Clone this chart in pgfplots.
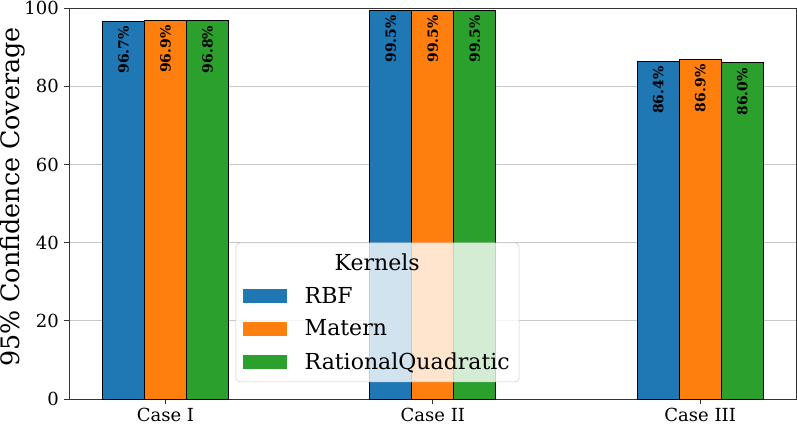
\documentclass[border=0pt]{standalone}
\usepackage{pgfplots}
\pgfplotsset{compat=1.18}
\usepackage{fontspec}
\setmainfont{DejaVu Serif}
\definecolor{tabblue}{HTML}{1F77B4}
\definecolor{taborange}{HTML}{FF7F0E}
\definecolor{tabgreen}{HTML}{2CA02C}
\begin{document}
\begin{tikzpicture}
\begin{axis}[
	scale only axis,
	width=545pt, height=293pt,
	ybar=0pt, bar width=0.157,
	xmin=-0.36, xmax=2.36,
	ymin=0, ymax=100,
	xtick=data,
	xticklabels={Case I, Case II, Case III},
	ytick={0,20,40,60,80,100},
	ymajorgrids, grid style={line width=0.8pt, color=black!22},
	axis line style={line width=0.8pt, color=black!80},
	tick style={line width=0.8pt, color=black!80},
	major tick length=3.5pt,
	tick align=outside, xtick pos=bottom, ytick pos=left,
	/pgf/number format/assume math mode=true,
	ticklabel style={font=\fontsize{13.5}{16}\selectfont},
	xticklabel style={inner xsep=1pt, inner ysep=2pt, yshift=-1pt},
	yticklabel style={inner sep=1pt, xshift=-3pt},
	ylabel={95\% Confidence Coverage},
	ylabel style={font=\fontsize{19}{23}\selectfont, inner sep=0pt, yshift=-1.5pt, xshift=5pt},
	nodes near coords={\pgfmathprintnumber[fixed,fixed zerofill,precision=1]{\pgfplotspointmeta}\%},
	every node near coord/.append style={font=\bfseries\fontsize{10.5}{12}\selectfont, inner sep=1pt, yshift=-2.5pt, rotate=90, anchor=east, color=black},
	legend style={at={(0.424,0.222)}, anchor=center, draw=black!20, rounded corners=3pt,
		fill=white, fill opacity=0.8, text opacity=1,
		font=\fontsize{16.5}{19}\selectfont, row sep=7pt, inner xsep=5pt, inner ysep=6pt,
		nodes={inner xsep=2pt},
		/tikz/every odd column/.append style={column sep=11.5pt}},
	legend cell align=left,
	legend image code/.code={\fill[#1, fill opacity=1, draw=none, sharp corners] (0pt,-5.25pt) rectangle (33pt,5.25pt);},
	every axis plot/.append style={draw=black, line width=0.8pt},
]
\addlegendimage{empty legend}
\addlegendentry{\hspace*{-22.5pt}\ooalign{\phantom{RationalQuadratic}\cr\hfil Kernels\hfil\cr}}
\addplot[fill=tabblue, draw=black] coordinates {(0,96.7) (1,99.5) (2,86.4)};
\addlegendentry{RBF}
\addplot[fill=taborange, draw=black] coordinates {(0,96.9) (1,99.5) (2,86.9)};
\addlegendentry{Matern}
\addplot[fill=tabgreen, draw=black] coordinates {(0,96.8) (1,99.5) (2,86.0)};
\addlegendentry{RationalQuadratic}
\end{axis}
\end{tikzpicture}
\end{document}
